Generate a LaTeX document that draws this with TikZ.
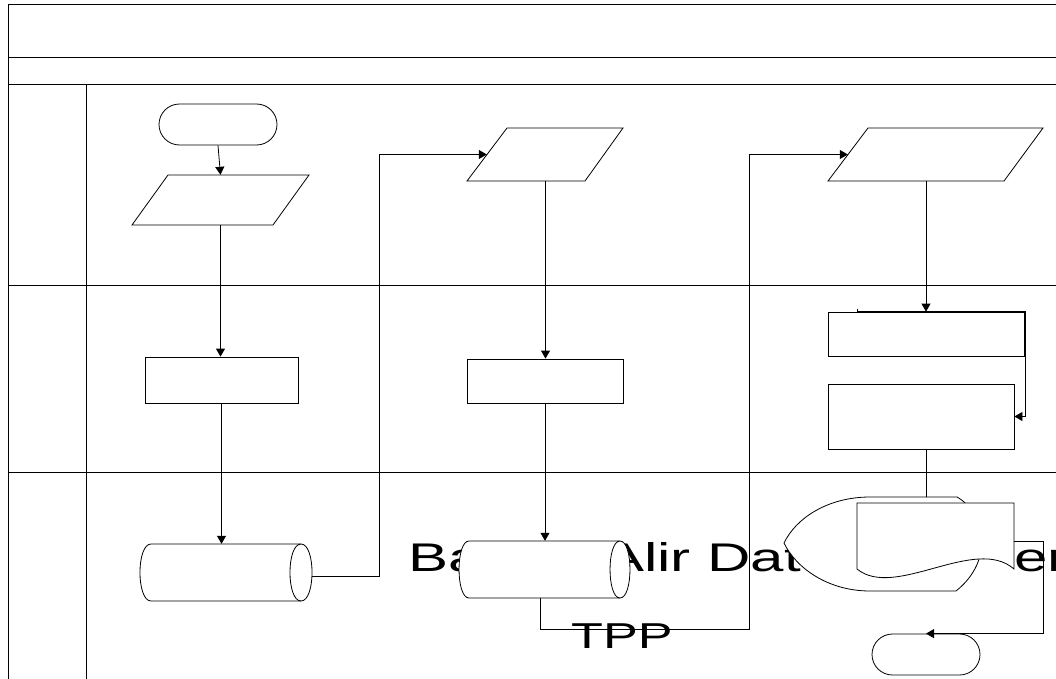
\documentclass[tikz,border=0pt]{standalone}
\usepackage{fontspec}
\setmainfont{Liberation Sans}
\usetikzlibrary{arrows.meta,shapes.misc,calc}
\begin{document}
\begin{tikzpicture}[x=1pt,y=-1pt,
  ln/.style={line width=0.8pt, draw=black},
  shp/.style={ln, fill=white},
  arr/.style={ln, -{Triangle[length=8pt,width=9pt]}},
  term/.style={shp, rounded rectangle, inner sep=0pt},
  procbox/.style={shp, rectangle, inner sep=0pt},
  anchorbox/.style={rectangle, inner sep=0pt, draw=none},
  bigtxt/.style={anchor=base west, inner sep=0pt, font=\fontsize{40}{42}\selectfont},
  midtxt/.style={anchor=base west, inner sep=0pt, font=\fontsize{36}{38}\selectfont}]
\useasboundingbox (0,0) rectangle (1056,679);

% swimlane frame
\draw[ln] (8,700) -- (8,4) -- (1070,4);
\draw[ln] (8,57) -- (1070,57);
\draw[ln] (8,84) -- (1070,84);
\draw[ln] (8,285) -- (1070,285);
\draw[ln] (8,472) -- (1070,472);
\draw[ln] (86,84) -- (86,700);

% large title text (partly covered by the shapes)
\node[bigtxt] (tA) at (408,571) {\scalebox{1.5}[1]{Ba}};
\node[bigtxt] (tB) at (604,571) {\scalebox{1.5}[1]{Alir Dat}};
\node[bigtxt] (tC) at (1014,571) {\scalebox{1.5}[1]{er}};
\node[midtxt] (tD) at (571,648) {\scalebox{1.45}[1]{TPP}};

% terminators
\node[term, minimum width=118pt, minimum height=41pt] (t1) at (218,124.5) {};
\node[term, minimum width=108pt, minimum height=41pt] (t2) at (926,654.5) {};

% parallelograms (input/output)
\node[anchorbox, minimum width=141pt, minimum height=50pt] (p1) at (220.5,200) {};
\draw[shp] (132,225) -- (168,175) -- (309,175) -- (273,225) -- cycle;
\node[anchorbox, minimum width=117pt, minimum height=53pt] (p2) at (545.5,154.5) {};
\draw[shp] (467,181) -- (507,128) -- (623,128) -- (585,181) -- cycle;
\node[anchorbox, minimum width=175.5pt, minimum height=53pt] (p3) at (935.75,154.5) {};
\draw[shp] (828,181) -- (868,128) -- (1043,128) -- (1004,181) -- cycle;

% process boxes
\node[procbox, minimum width=153pt, minimum height=46pt] (b1) at (221.5,380) {};
\node[procbox, minimum width=156pt, minimum height=44pt] (b2) at (545,381) {};
\node[procbox, minimum width=196pt, minimum height=44pt] (b3) at (926,334) {};
\node[procbox, minimum width=186pt, minimum height=65pt] (b4) at (921,416.5) {};

% stored data cylinders
\node[anchorbox, minimum width=172pt, minimum height=57pt] (c1) at (226,572.5) {};
\draw[shp] (151,544) -- (301,544) .. controls (315.7,544) and (315.7,601) .. (301,601)
  -- (151,601) .. controls (136.3,601) and (136.3,544) .. (151,544) -- cycle;
\draw[ln] (301,544) .. controls (286.3,544) and (286.3,601) .. (301,601);
\node[anchorbox, minimum width=171pt, minimum height=57pt] (c2) at (544.5,569.5) {};
\draw[shp] (469,541) -- (620,541) .. controls (633.3,541) and (633.3,598) .. (620,598)
  -- (469,598) .. controls (455.7,598) and (455.7,541) .. (469,541) -- cycle;
\draw[ln] (620,541) .. controls (606.7,541) and (606.7,598) .. (620,598);

% display shape
\node[anchorbox, minimum width=216pt, minimum height=94pt] (disp) at (892,544) {};
\draw[shp] (870,497) -- (957,497) .. controls (985,513) and (995,560) .. (956,591)
  -- (870,591) .. controls (828,591) and (796,568) .. (784,543)
  .. controls (796,518) and (828,497) .. (870,497) -- cycle;

% document shape
\node[anchorbox, minimum width=157pt, minimum height=66pt] (doc) at (935.5,536) {};
\draw[shp] (857,569) -- (857,503) -- (1014,503) -- (1014,569)
  .. controls (975,535) and (895,600) .. (857,569) -- cycle;

% connectors
\draw[arr] (t1.south) -- (p1.north);
\draw[arr] (p1.south) -- (p1.south |- b1.north);
\draw[arr] (b1.south) -- (b1.south |- c1.north);
\draw[arr] ([yshift=-4pt]c1.east) -- ++(67,0) |- (p2.west);
\draw[arr] (p2.south) -- (p2.south |- b2.north);
\draw[arr] (b2.south) -- (b2.south |- c2.north);
\draw[arr] ([xshift=-4.5pt]c2.south) -- ++(0,31) -| ($(p3.west)+(-98,0)$) -- (p3.west);
\draw[arr] (b3.north |- p3.south) -- (b3.north);
\coordinate (b3tap) at (857,309);
\draw[arr] (b3tap) |- ++(168.5,2) |- (b4.east);
\draw[ln] (b3.north |- b4.south) -- (b3.north |- disp.north);
\draw[arr] ([yshift=-5pt]doc.east) -- ++(29,0) |- (t2.north);
\end{tikzpicture}
\end{document}
